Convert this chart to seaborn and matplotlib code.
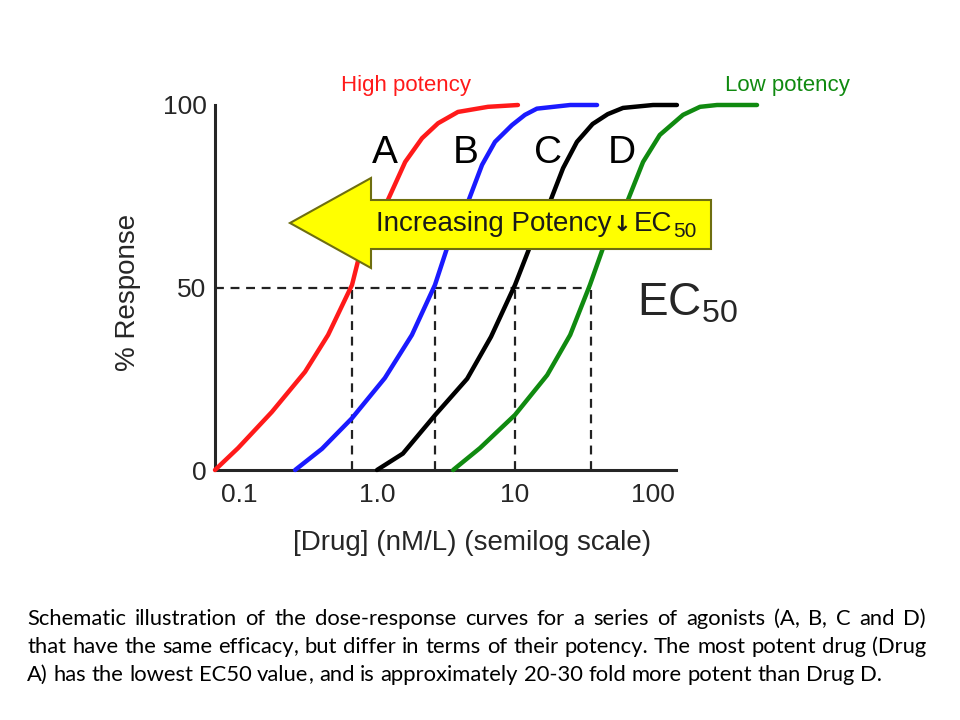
import pandas as pd
import matplotlib
matplotlib.use('Agg')
import matplotlib.pyplot as plt
from matplotlib.patches import Polygon
import seaborn as sns

# dose-response curves: [Drug] (nM/L) and % response
a_dose = [0.067, 0.0984, 0.173, 0.301, 0.442, 0.659, 0.778, 1.18, 1.60, 2.12, 2.77, 3.86, 6.37, 10.5]
a_resp = [0, 6.0, 15.9, 26.9, 37.0, 50.7, 61.6, 73.4, 84.4, 90.9, 95.0, 98.1, 99.5, 100]
b_dose = [0.255, 0.399, 0.659, 1.14, 1.79, 2.63, 3.27, 4.56, 5.77, 7.16, 9.51, 11.8, 14.4, 25.1, 39.3]
b_resp = [0, 5.8, 14.2, 25.2, 37.0, 50.7, 61.6, 73.4, 83.6, 89.9, 94.5, 97.3, 99.0, 100, 100]
c_dose = [1.0, 1.54, 2.63, 4.5, 6.7, 10, 12.8, 17.9, 22.3, 28.1, 36.5, 47, 60.6, 100, 149]
c_resp = [0, 4.5, 15.0, 25.0, 36.5, 50.7, 61.1, 73.4, 82.7, 89.9, 94.8, 97.5, 99.2, 100, 100]
d_dose = [3.56, 5.57, 10, 17.1, 25.1, 34.9, 43.4, 64.9, 84.7, 112, 165, 219, 291, 567]
d_resp = [0, 6.0, 15.1, 26.0, 37.0, 50.7, 60.8, 73.4, 84.4, 91.8, 97.3, 99.5, 100, 100]

drugs = ['A', 'B', 'C', 'D']
ec50 = [0.66, 2.63, 10, 35.6]
label_dose = [1.14, 4.42, 17.3, 59.6]
colors = {'A': '#ff1a1a', 'B': '#1a1aff', 'C': '#000000', 'D': '#108a10'}

x_ticks = [0.1, 1, 10, 100]
x_ticklabels = ['0.1', '1.0', '10', '100']
y_ticks = [0, 50, 100]

caption_lines = [
    'Schematic illustration of the dose-response curves for a series of agonists (A, B, C and D)',
    'that have the same efficacy, but differ in terms of their potency. The most potent drug (Drug',
    'A) has the lowest EC50 value, and is approximately 20-30 fold more potent than Drug D.',
]

df = pd.concat([
    pd.DataFrame({'dose': a_dose, 'response': a_resp, 'drug': 'A'}),
    pd.DataFrame({'dose': b_dose, 'response': b_resp, 'drug': 'B'}),
    pd.DataFrame({'dose': c_dose, 'response': c_resp, 'drug': 'C'}),
    pd.DataFrame({'dose': d_dose, 'response': d_resp, 'drug': 'D'}),
])

sns.set_style('white')
plt.rcParams['font.family'] = ['Liberation Sans', 'DejaVu Sans']
plt.rcParams['mathtext.default'] = 'regular'

W, H = 960, 720
def fx(px):
    return px / W
def fy(py):
    return 1 - py / H

fig = plt.figure(figsize=(9.6, 7.2), dpi=100)
ax = fig.add_axes([fx(215), fy(470), fx(780) - fx(215), fy(97.7) - fy(470)])

# dashed EC50 guides
ax.hlines(50, 0.067, ec50[-1], colors='#222222', linestyles=(0, (4, 3)), lw=1.6, zorder=1)
ax.vlines(ec50, 0, 50, colors='#222222', linestyles=(0, (4, 3)), lw=1.6, zorder=1)

sns.lineplot(data=df, x='dose', y='response', hue='drug', palette=colors,
             estimator=None, lw=3.2, legend=False, ax=ax, zorder=3)
for line in ax.lines:
    line.set_clip_on(False)
    line.set_solid_capstyle('round')
    line.set_solid_joinstyle('round')

ax.set_xscale('log')
ax.set_xlim(0.067, 832)
ax.set_ylim(0, 102)
ax.set_xticks(x_ticks)
ax.set_xticklabels(x_ticklabels)
ax.minorticks_off()
ax.set_yticks(y_ticks)
ax.tick_params(axis='both', direction='in', length=7, width=1.6, labelsize=19, color='black')
ax.tick_params(axis='x', pad=9)
ax.tick_params(axis='y', pad=6)

sns.despine(ax=ax)
ax.spines['left'].set_linewidth(2.2)
ax.spines['bottom'].set_linewidth(2.2)
ax.spines['left'].set_bounds(0, 100)
ax.spines['bottom'].set_bounds(0.067, 147)

ax.set_xlabel('[Drug] (nM/L) (semilog scale)', fontsize=20, va='center')
ax.xaxis.set_label_coords(0.455, -0.196)
ax.set_ylabel('% Response', fontsize=20, va='center', ha='center')
ax.yaxis.set_label_coords(-0.154, 0.478)

for d, x in zip(drugs, label_dose):
    ax.text(x, 86.8, d, fontsize=28, ha='center', va='center', color='black')

fig.text(fx(406), fy(85), 'High potency', color='#ff1a1a', fontsize=16, ha='center', va='center')
fig.text(fx(787), fy(85), 'Low potency', color='#108a10', fontsize=16, ha='center', va='center')
fig.text(fx(637), fy(303), 'EC$_{50}$', fontsize=33, ha='left', va='center')

# big yellow arrow
arrow_pts = [(290, 223), (371, 178), (371, 200), (711, 200), (711, 249), (371, 249), (371, 268)]
arrow = Polygon([(fx(x), fy(y)) for x, y in arrow_pts], closed=True, transform=fig.transFigure,
                facecolor='#ffff00', edgecolor='#6e6e10', lw=1.5, zorder=5)
fig.add_artist(arrow)
fig.text(fx(376), fy(231), 'Increasing Potency', fontsize=20, ha='left', va='baseline',
         color='#1a1a1a', zorder=6)
fig.text(fx(622), fy(231), '\u2193', fontsize=16, ha='center', va='baseline', family='DejaVu Sans',
         weight='bold', color='#1a1a1a', zorder=6)
fig.text(fx(634), fy(231), 'EC', fontsize=20, ha='left', va='baseline', color='#1a1a1a', zorder=6)
fig.text(fx(673), fy(237), '50', fontsize=15, ha='left', va='baseline', color='#1a1a1a', zorder=6)

# caption, justified like the slide text: one text per word, commas set on their own
fig.canvas.draw()
r = fig.canvas.get_renderer()
cap_font = dict(fontsize=15.8, family='Lato', color='black', va='baseline')
def text_width(s):
    t = fig.text(0, 0, s, **cap_font)
    w = t.get_window_extent(r).width
    t.remove()
    return w

space_w = text_width('x x') - text_width('xx')
x0, x1 = 27, 926
for i, line in enumerate(caption_lines):
    y = 625 + 28 * i
    words = line.split(' ')
    widths = [text_width(w) for w in words]
    if i < len(caption_lines) - 1:
        gap = (x1 - x0 - sum(widths)) / (len(words) - 1)
    else:
        gap = space_w
    x = x0
    for w, wd in zip(words, widths):
        if w.endswith(',') and len(w) > 1:
            body = w[:-1]
            fig.text(fx(x), fy(y), body, ha='left', **cap_font)
            fig.text(fx(x + text_width(body)), fy(y), ',', ha='left', **cap_font)
        else:
            fig.text(fx(x), fy(y), w, ha='left', **cap_font)
        x += wd + gap

fig.savefig('out.png', dpi=100, facecolor='white')
